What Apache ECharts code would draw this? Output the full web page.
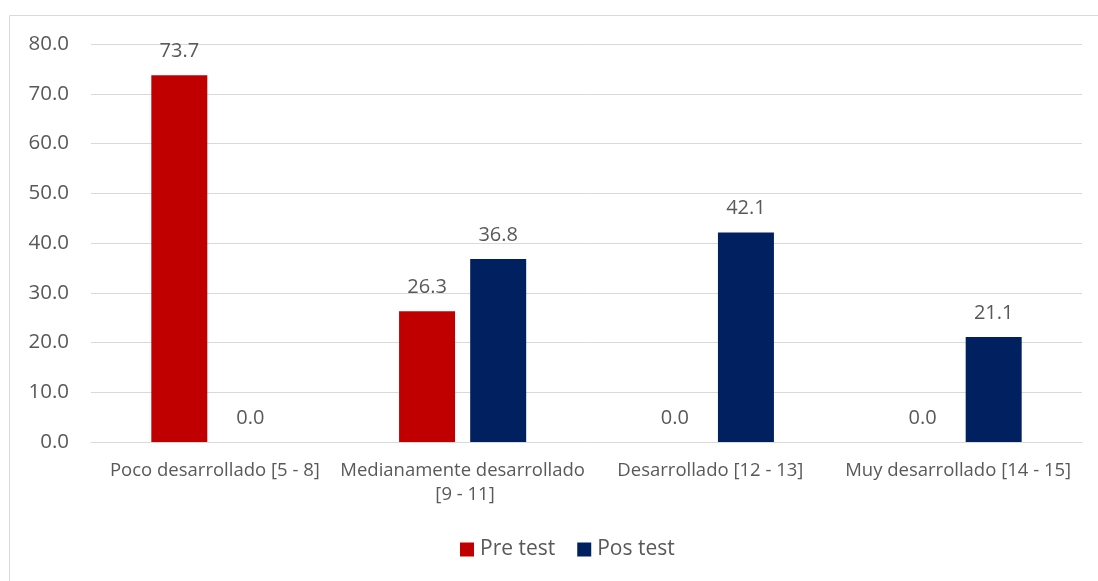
<!DOCTYPE html>
<html>
<head>
<meta charset="utf-8">
<script src="https://cdn.jsdelivr.net/npm/echarts@6/dist/echarts.min.js"></script>
<style>
html,body{margin:0;padding:0;background:#fff;}
#c{width:1098px;height:581px;}
</style>
</head>
<body>
<div id="c"></div>
<script>
const categories = ["Poco desarrollado [5 - 8]", "Medianamente desarrollado [9 - 11]", "Desarrollado [12 - 13]", "Muy desarrollado [14 - 15]"];
const preTest = [73.7, 26.3, 0.0, 0.0];
const posTest = [0.0, 36.8, 42.1, 21.1];
const seriesNames = ["Pre test", "Pos test"];

const FONT = "'Open Sans', 'Liberation Sans', sans-serif";
const TXT = "#595959";
const chart = echarts.init(document.getElementById('c'), null, {renderer: 'canvas'});
const labelOpt = {
  show: true, position: 'top', distance: 14, color: TXT, fontSize: 20, fontFamily: FONT,
  formatter: p => p.value.toFixed(1)
};
chart.setOption({
  animation: false,
  backgroundColor: '#fff',
  graphic: [{
    type: 'rect', shape: {x: 9.5, y: 15.5, width: 1200, height: 700},
    style: {fill: 'none', stroke: '#d9d9d9', lineWidth: 1}, silent: true, z: -1
  }],
  grid: {left: 91, right: 16, top: 44, bottom: 139, containLabel: false},
  legend: {
    data: seriesNames, top: 534, left: 455, itemWidth: 14, itemHeight: 14, itemGap: 22,
    icon: 'rect', textStyle: {color: TXT, fontSize: 21, fontFamily: FONT, padding: [0, 0, 0, 1]}
  },
  xAxis: {
    type: 'category', data: categories,
    axisLine: {show: true, lineStyle: {color: '#d9d9d9'}},
    axisTick: {show: false},
    axisLabel: {color: TXT, fontSize: 18.5, fontFamily: FONT, margin: 17, interval: 0,
      width: 245, overflow: 'break', lineHeight: 24}
  },
  yAxis: {
    type: 'value', min: 0, max: 80, interval: 10,
    axisLine: {show: false}, axisTick: {show: false},
    axisLabel: {color: TXT, fontSize: 20.5, fontFamily: FONT, margin: 22, formatter: v => v.toFixed(1)},
    splitLine: {lineStyle: {color: '#d9d9d9', width: 1}}
  },
  series: [
    {name: seriesNames[0], type: 'bar', data: preTest, barWidth: 56, barGap: '27%',
     itemStyle: {color: '#C00000'}, label: labelOpt},
    {name: seriesNames[1], type: 'bar', data: posTest, barWidth: 56, barGap: '27%',
     itemStyle: {color: '#002060'}, label: labelOpt}
  ]
});
</script>
</body>
</html>
